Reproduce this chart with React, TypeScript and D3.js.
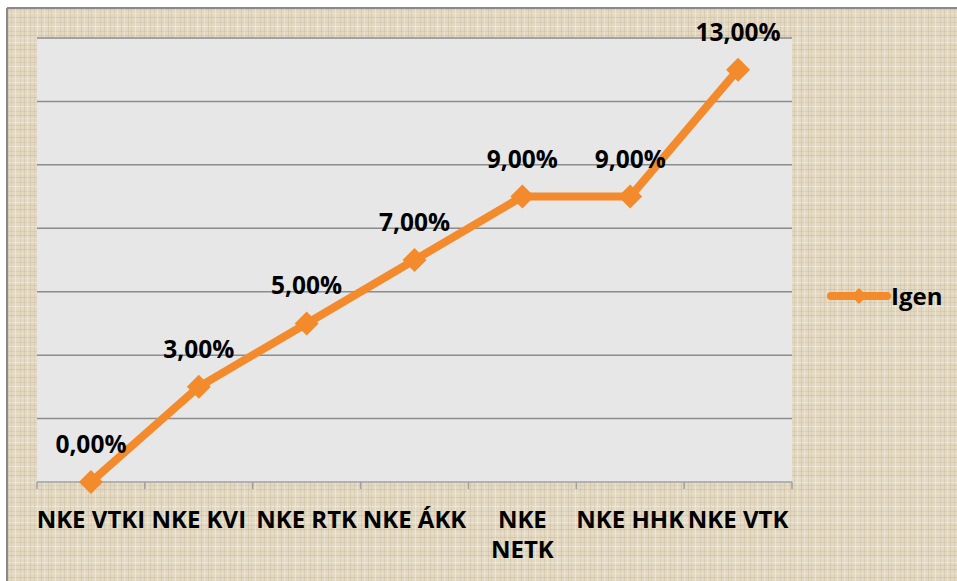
import React from "react";
import * as d3 from "d3";

const categories: string[][] = [
  ["NKE VTKI"],
  ["NKE KVI"],
  ["NKE RTK"],
  ["NKE ÁKK"],
  ["NKE", "NETK"],
  ["NKE HHK"],
  ["NKE VTK"],
];
const values: number[] = [0, 3, 5, 7, 9, 9, 13];
const valueLabels: string[] = ["0,00%", "3,00%", "5,00%", "7,00%", "9,00%", "9,00%", "13,00%"];
const seriesName = "Igen";
const yMax = 14;
const gridStep = 2;

const W = 957;
const H = 581;
const plot = { left: 37, right: 792, top: 38, bottom: 482 };
const ORANGE = "#F38A2C";
const FONT = "'Open Sans', 'Liberation Sans', sans-serif";

export default function App() {
  const x = d3
    .scaleBand<number>()
    .domain(d3.range(categories.length))
    .range([plot.left, plot.right])
    .paddingInner(0)
    .paddingOuter(0);
  const y = d3.scaleLinear().domain([0, yMax]).range([plot.bottom, plot.top]);
  const cx = (i: number) => (x(i) as number) + x.bandwidth() / 2;
  const line = d3
    .line<number>()
    .x((_, i) => cx(i))
    .y((d) => y(d));
  const grid = d3.range(0, yMax + 0.001, gridStep);
  const boundaries = d3.range(categories.length + 1).map((i) => plot.left + i * x.bandwidth());
  const diamond = (px: number, py: number, r: number) =>
    `M${px},${py - r}L${px + r},${py}L${px},${py + r}L${px - r},${py}Z`;

  // texture stripes (decorative)
  const hLines = [2, 5, 9, 13, 17, 22, 26, 31, 35, 38];
  const vLines = [1, 4, 8, 11, 15, 20, 24, 27, 30, 34, 37];

  return (
    <svg
      width={W}
      height={H}
      style={{ position: "absolute", left: 0, top: 0, display: "block" }}
      xmlns="http://www.w3.org/2000/svg"
    >
      <defs>
        <pattern id="linen" width="40" height="40" patternUnits="userSpaceOnUse">
          <rect width="40" height="40" fill="#E3D9C3" />
          {hLines.map((v, i) => (
            <rect
              key={"h" + i}
              x={0}
              y={v}
              width={40}
              height={1}
              fill={i % 3 === 0 ? "#F2ECDF" : "#CFC2A7"}
              opacity={i % 2 === 0 ? 0.75 : 0.5}
            />
          ))}
          {vLines.map((v, i) => (
            <rect
              key={"v" + i}
              x={v}
              y={0}
              width={1}
              height={40}
              fill={i % 3 === 1 ? "#F3EEE2" : "#CDBFA4"}
              opacity={i % 2 === 0 ? 0.55 : 0.4}
            />
          ))}
        </pattern>
      </defs>
      <rect x={0} y={0} width={W} height={H} fill="#ffffff" />
      <rect x={7} y={8} width={W - 7} height={H - 8} fill="url(#linen)" />
      <line x1={7} y1={8} x2={W} y2={8} stroke="#8a8a8a" strokeWidth={2} />
      <line x1={7} y1={8} x2={7} y2={H} stroke="#8a8a8a" strokeWidth={2} />

      {/* plot area */}
      <rect
        x={plot.left}
        y={plot.top}
        width={plot.right - plot.left}
        height={plot.bottom - plot.top}
        fill="#E7E7E7"
      />
      {grid.map((g) =>
        g === 0 ? null : (
          <line
            key={g}
            x1={plot.left}
            x2={plot.right}
            y1={y(g)}
            y2={y(g)}
            stroke="#8C8C8C"
            strokeWidth={1.5}
          />
        )
      )}
      {/* x axis */}
      <line
        x1={plot.left}
        x2={plot.right}
        y1={plot.bottom}
        y2={plot.bottom}
        stroke="#A0A0A0"
        strokeWidth={1.5}
      />
      {boundaries.map((bx, i) => (
        <line
          key={i}
          x1={bx}
          x2={bx}
          y1={plot.bottom}
          y2={plot.bottom + 7}
          stroke="#A0A0A0"
          strokeWidth={1.5}
        />
      ))}

      {/* series */}
      <path d={line(values) || ""} fill="none" stroke={ORANGE} strokeWidth={8} strokeLinejoin="round" />
      {values.map((v, i) => (
        <path key={i} d={diamond(cx(i), y(v), 12)} fill={ORANGE} />
      ))}
      {values.map((v, i) => (
        <text
          key={i}
          x={cx(i)}
          y={y(v) - 29}
          textAnchor="middle"
          fontFamily={FONT}
          fontWeight={700}
          fontSize={24.5}
          fill="#000"
        >
          {valueLabels[i]}
        </text>
      ))}

      {/* category labels */}
      {categories.map((lines, i) => (
        <text
          key={i}
          x={cx(i)}
          y={528}
          textAnchor="middle"
          fontFamily={FONT}
          fontWeight={700}
          fontSize={24}
          fill="#000"
        >
          {lines.map((l, j) => (
            <tspan key={j} x={cx(i)} dy={j === 0 ? 0 : 30}>
              {l}
            </tspan>
          ))}
        </text>
      ))}

      {/* legend */}
      <line x1={831} x2={887} y1={296} y2={296} stroke={ORANGE} strokeWidth={8} strokeLinecap="round" />
      <path d={diamond(859, 296, 8)} fill={ORANGE} />
      <text x={891} y={305} fontFamily={FONT} fontWeight={700} fontSize={24} fill="#000">
        {seriesName}
      </text>
    </svg>
  );
}
